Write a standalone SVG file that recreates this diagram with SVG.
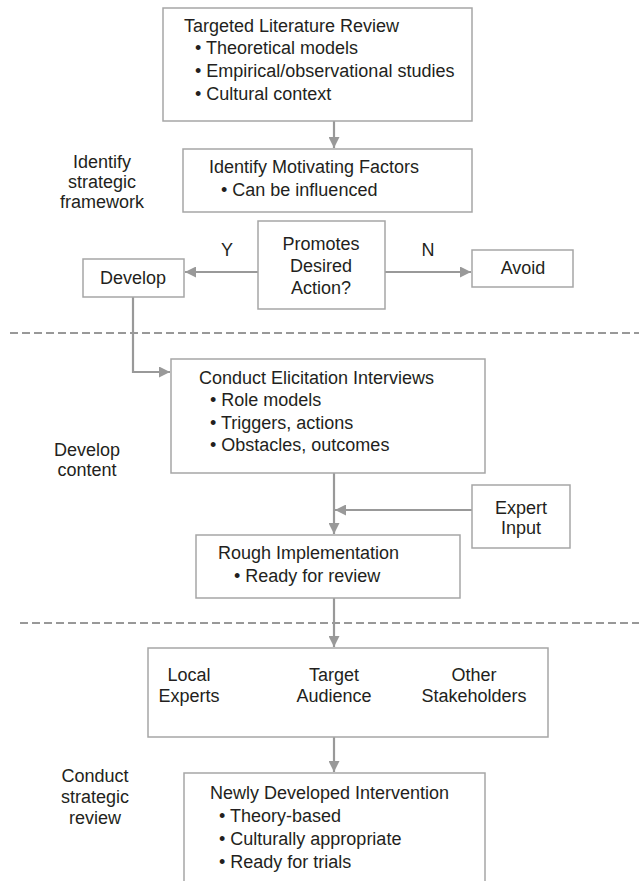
<svg xmlns="http://www.w3.org/2000/svg" width="639" height="881" viewBox="0 0 639 881">
<style>
.box{fill:#fff;stroke:#a6a6a6;stroke-width:1.5}
.t{font-family:"Liberation Sans",Arial,sans-serif;font-size:18px;fill:#231f20}
.c{text-anchor:middle}
.ln{stroke:#999;stroke-width:2.2;fill:none}
.dash{stroke:#333;stroke-width:1;stroke-dasharray:8 4}
</style>
<defs>
<marker id="ah" viewBox="0 0 10 10" refX="10" refY="5" markerWidth="5" markerHeight="5" orient="auto" markerUnits="strokeWidth">
<path d="M0,0 L10,5 L0,10 z" fill="#999"/>
</marker>
</defs>
<rect width="639" height="881" fill="#fff"/>
<g id="separators">
<line class="dash" x1="10" y1="333" x2="639" y2="333"/>
<line class="dash" x1="20" y1="623" x2="639" y2="623"/>
</g>
<g id="labels">
<text class="t c" x="102" y="168">Identify</text>
<text class="t c" x="102" y="188">strategic</text>
<text class="t c" x="102" y="208">framework</text>
<text class="t c" x="87" y="456">Develop</text>
<text class="t c" x="87" y="476">content</text>
<text class="t c" x="95" y="782">Conduct</text>
<text class="t c" x="95" y="803">strategic</text>
<text class="t c" x="95" y="824">review</text>
<text class="t c" x="227" y="256">Y</text>
<text class="t c" x="428" y="256">N</text>
</g>
<g id="connectors">
<line class="ln" x1="334" y1="121" x2="334" y2="148" marker-end="url(#ah)"/>
<line class="ln" x1="258" y1="272" x2="185" y2="272" marker-end="url(#ah)"/>
<line class="ln" x1="385" y1="272" x2="471" y2="272" marker-end="url(#ah)"/>
<polyline class="ln" points="133,297 133,372 170,372" marker-end="url(#ah)"/>
<line class="ln" x1="334" y1="473" x2="334" y2="534" marker-end="url(#ah)"/>
<line class="ln" x1="472" y1="510" x2="335" y2="510" marker-end="url(#ah)"/>
<line class="ln" x1="334" y1="598" x2="334" y2="647" marker-end="url(#ah)"/>
<line class="ln" x1="334" y1="737" x2="334" y2="772" marker-end="url(#ah)"/>
</g>
<g id="literature">
<rect class="box" x="163" y="8" width="309" height="113"/>
<text class="t" x="184" y="32">Targeted Literature Review</text>
<text class="t" x="195" y="54">• Theoretical models</text>
<text class="t" x="195" y="77">• Empirical/observational studies</text>
<text class="t" x="195" y="100">• Cultural context</text>
</g>
<g id="motivating">
<rect class="box" x="183" y="149" width="289" height="63"/>
<text class="t" x="209" y="173">Identify Motivating Factors</text>
<text class="t" x="221" y="196">• Can be influenced</text>
</g>
<g id="decision">
<rect class="box" x="258" y="221" width="127" height="88"/>
<text class="t c" x="321" y="250">Promotes</text>
<text class="t c" x="321" y="272">Desired</text>
<text class="t c" x="321" y="294">Action?</text>
</g>
<g id="develop">
<rect class="box" x="83" y="259" width="101" height="38"/>
<text class="t c" x="133" y="284">Develop</text>
</g>
<g id="avoid">
<rect class="box" x="472" y="250" width="101" height="37"/>
<text class="t c" x="523" y="274">Avoid</text>
</g>
<g id="elicitation">
<rect class="box" x="171" y="359" width="314" height="114"/>
<text class="t" x="199" y="384">Conduct Elicitation Interviews</text>
<text class="t" x="210" y="406">• Role models</text>
<text class="t" x="210" y="429">• Triggers, actions</text>
<text class="t" x="210" y="451">• Obstacles, outcomes</text>
</g>
<g id="expert">
<rect class="box" x="472" y="485" width="98" height="63"/>
<text class="t c" x="521" y="514">Expert</text>
<text class="t c" x="521" y="534">Input</text>
</g>
<g id="rough">
<rect class="box" x="196" y="535" width="264" height="63"/>
<text class="t" x="218" y="559">Rough Implementation</text>
<text class="t" x="234" y="582">• Ready for review</text>
</g>
<g id="reviewers">
<rect class="box" x="148" y="648" width="400" height="89"/>
<text class="t c" x="189" y="681">Local</text>
<text class="t c" x="189" y="702">Experts</text>
<text class="t c" x="334" y="681">Target</text>
<text class="t c" x="334" y="702">Audience</text>
<text class="t c" x="474" y="681">Other</text>
<text class="t c" x="474" y="702">Stakeholders</text>
</g>
<g id="intervention">
<rect class="box" x="184" y="773" width="301" height="120"/>
<text class="t" x="210" y="799">Newly Developed Intervention</text>
<text class="t" x="219" y="822">• Theory-based</text>
<text class="t" x="219" y="845">• Culturally appropriate</text>
<text class="t" x="219" y="868">• Ready for trials</text>
</g>
</svg>
